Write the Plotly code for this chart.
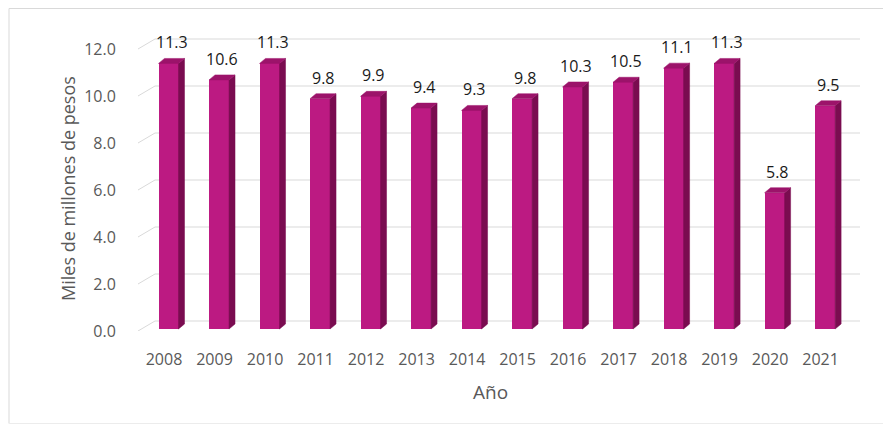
import numpy as np
import plotly.graph_objects as go

years = ["2008", "2009", "2010", "2011", "2012", "2013", "2014", "2015",
         "2016", "2017", "2018", "2019", "2020", "2021"]
values = [11.3, 10.6, 11.3, 9.8, 9.9, 9.4, 9.3, 9.8, 10.3, 10.5, 11.1, 11.3, 5.8, 9.5]
y_ticks = [0, 2, 4, 6, 8, 10, 12]
y_tick_labels = ["0.0", "2.0", "4.0", "6.0", "8.0", "10.0", "12.0"]
value_labels = [f"{v:.1f}" for v in values]
x_title = "Año"
y_title = "Miles de millones de pesos"

# style constants (pixel based -> data units)
PX_X = 50.5   # px per category
PX_Y = 23.5   # px per unit
bar_w = 20 / PX_X
bar_dx = 4.5 / PX_X       # bars sit mid-depth
bar_base = 2 / PX_Y
side_dx = 6 / PX_X
top_dy = 5 / PX_Y
wall_dx = 17 / PX_X
wall_dy = 10 / PX_Y
xmin, xmax = -0.515, 13.78

FRONT = "#BC1A82"
SIDE = "#7A0C50"
TOP = "#9C136A"

idx = np.arange(len(years))
xc = idx + bar_dx
xl = xc - bar_w / 2
xr = xc + bar_w / 2
vals = np.array(values)

fig = go.Figure()

# back-wall gridlines (below traces)
for t in y_ticks:
    fig.add_shape(type="line", xref="x", yref="y", x0=xmin, y0=t,
                  x1=xmin + wall_dx, y1=t + wall_dy, layer="below",
                  line=dict(color="#d9d9d9", width=1))
    fig.add_shape(type="line", xref="x", yref="y", x0=xmin + wall_dx, y0=t + wall_dy,
                  x1=xmax, y1=t + wall_dy, layer="below",
                  line=dict(color="#d9d9d9", width=1))

# side faces
sx, sy = [], []
for a, v in zip(xr, vals):
    sx += [a, a + side_dx, a + side_dx, a, a, None]
    sy += [bar_base, bar_base + top_dy, bar_base + v + top_dy, bar_base + v, bar_base, None]
fig.add_trace(go.Scatter(x=sx, y=sy, fill="toself", fillcolor=SIDE, mode="lines",
                         line=dict(color=SIDE, width=0.5), hoverinfo="skip", showlegend=False))

# top faces
tx, ty = [], []
for a, b, v in zip(xl, xr, vals):
    tx += [a, b, b + side_dx, a + side_dx, a, None]
    ty += [bar_base + v, bar_base + v, bar_base + v + top_dy, bar_base + v + top_dy, bar_base + v, None]
fig.add_trace(go.Scatter(x=tx, y=ty, fill="toself", fillcolor=TOP, mode="lines",
                         line=dict(color=TOP, width=0.5), hoverinfo="skip", showlegend=False))

# front faces
fig.add_trace(go.Bar(x=xc, y=vals, base=bar_base, width=bar_w,
                     marker=dict(color=FRONT, line=dict(width=0)), showlegend=False))

for x, v, lab in zip(xc, vals, value_labels):
    fig.add_annotation(x=x + side_dx / 2, y=v + bar_base + top_dy, text=lab, showarrow=False,
                       yanchor="bottom", yshift=3,
                       font=dict(family="Open Sans", size=16, color="#1a1a1a"))

# page body has an 8px margin: figure sized so it fits the window without scrolling
W, H = 875, 416
L, R, T, B = 130, 23, 23, 93
pw, ph = W - L - R, H - T - B
ymax = ph / PX_Y

def px(xf):
    return (xf - L) / pw

def py(yf):
    return (H - B - yf) / ph

border = dict(color="#d9d9d9", width=1)
fig.add_shape(type="line", xref="paper", yref="paper", x0=px(1), x1=px(W), y0=py(0.5), y1=py(0.5),
              line=border, layer="below")
fig.add_shape(type="line", xref="paper", yref="paper", x0=px(1), x1=px(1), y0=py(0.5), y1=py(415.5),
              line=border, layer="below")
fig.add_shape(type="line", xref="paper", yref="paper", x0=px(1), x1=px(W), y0=py(415.5), y1=py(415.5),
              line=dict(color="#ececec", width=1), layer="below")

# axis titles
fig.add_annotation(xref="paper", yref="paper", x=px(60), y=py(181),
                   text=y_title, textangle=-90, showarrow=False,
                   xanchor="center", yanchor="middle",
                   font=dict(family="Open Sans", size=18, color="#595959"))
fig.add_annotation(xref="paper", yref="paper", x=px(482), y=py(384),
                   text=x_title, showarrow=False, xanchor="center", yanchor="middle",
                   font=dict(family="Open Sans", size=19, color="#595959"))

fig.update_layout(
    width=W, height=H,
    margin=dict(l=L, r=R, t=T, b=B),
    paper_bgcolor="white", plot_bgcolor="white",
    font=dict(family="Open Sans", color="#595959", size=16),
    xaxis=dict(range=[xmin, xmax], tickmode="array", tickvals=idx, ticktext=years,
               showgrid=False, zeroline=False, showline=False,
               ticks="outside", ticklen=14, tickcolor="rgba(0,0,0,0)",
               tickfont=dict(size=16, color="#595959")),
    yaxis=dict(range=[0, ymax], tickmode="array", tickvals=y_ticks, ticktext=y_tick_labels,
               showgrid=False, zeroline=False, showline=False,
               ticks="outside", ticklen=18, tickcolor="rgba(0,0,0,0)",
               tickfont=dict(size=16, color="#595959")),
    bargap=0,
)

fig.write_html("out.html")
